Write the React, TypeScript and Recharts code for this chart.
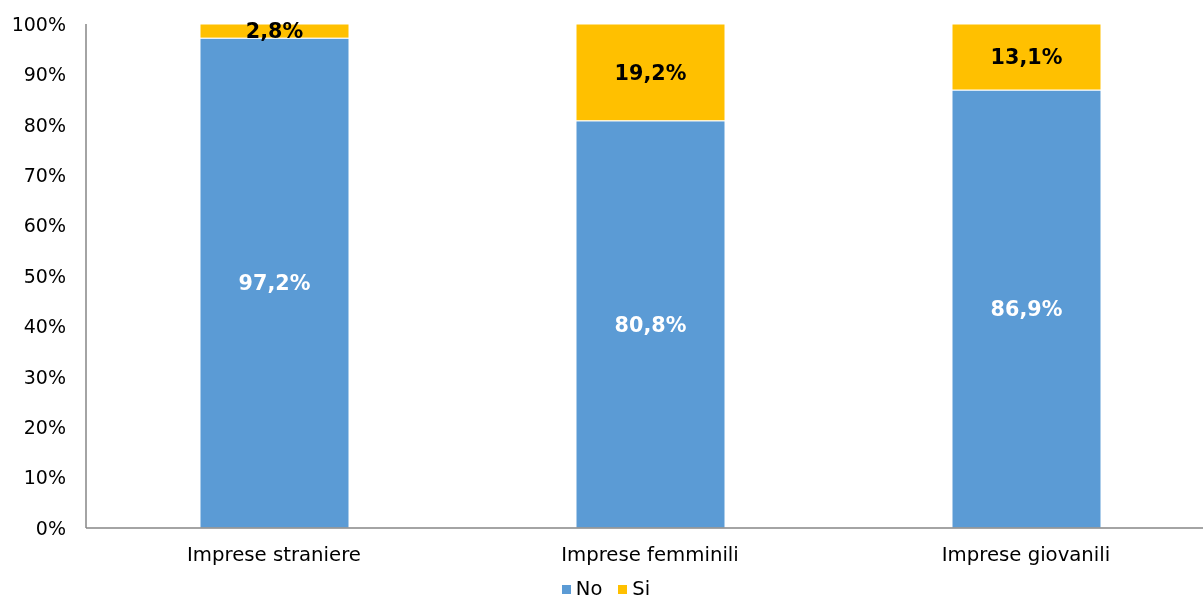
import { BarChart, Bar, XAxis, YAxis, Legend, LabelList } from 'recharts';

const CATEGORIES = ['Imprese straniere', 'Imprese femminili', 'Imprese giovanili'];
const NO_VALUES = [97.2, 80.8, 86.9];
const SI_VALUES = [2.8, 19.2, 13.1];
const Y_TICKS = [0, 10, 20, 30, 40, 50, 60, 70, 80, 90, 100];

const FONT = '"DejaVu Sans", Verdana, sans-serif';
const AXIS_COLOR = '#868686';

const data = CATEGORIES.map((name, i) => ({ name, no: NO_VALUES[i], si: SI_VALUES[i] }));

const fmt = (v: number) => `${v.toFixed(1).replace('.', ',')}%`;

const renderLegend = (props: any) => (
  <div
    style={{
      display: 'flex',
      justifyContent: 'center',
      alignItems: 'center',
      gap: 16,
      height: 18,
      lineHeight: '18px',
      fontSize: 19.5,
      fontFamily: FONT,
    }}
  >
    {props.payload.map((entry: any) => (
      <div key={entry.value} style={{ display: 'flex', alignItems: 'center' }}>
        <span style={{ width: 9, height: 9, background: entry.color, marginRight: 5 }} />
        <span style={{ color: '#000' }}>{entry.value}</span>
      </div>
    ))}
  </div>
);

export default function App() {
  return (
    <div style={{ position: 'fixed', left: 0, top: 0, width: 1203, height: 601, overflow: 'hidden', fontFamily: FONT }}>
      <BarChart
        width={1230}
        height={601}
        data={data}
        margin={{ top: 24, right: 16, left: 0, bottom: 0 }}
        barSize={149}
      >
        <XAxis
          dataKey="name"
          tickSize={0}
          tickMargin={19}
          height={73}
          stroke={AXIS_COLOR}
          strokeWidth={1.5}
          tick={{ fill: '#000', fontSize: 19.7, fontFamily: FONT }}
        />
        <YAxis
          domain={[0, 100]}
          ticks={Y_TICKS}
          width={86}
          tickSize={0}
          tickMargin={20}
          stroke={AXIS_COLOR}
          strokeWidth={1.5}
          tickFormatter={(v) => `${v}%`}
          tick={{ fill: '#000', fontSize: 19, fontFamily: FONT }}
          interval={0}
        />
        <Legend
          verticalAlign="middle"
          align="center"
          layout="horizontal"
          content={renderLegend}
          wrapperStyle={{ top: 580, left: 0, width: 1212, height: 18 }}
        />
        <Bar dataKey="no" name="No" stackId="a" fill="#5B9BD5" stroke="#fff" strokeWidth={1} isAnimationActive={false}>
          <LabelList
            dataKey="no"
            position="center"
            formatter={(v: number) => fmt(v)}
            style={{ fill: '#fff', fontWeight: 'bold', fontSize: 20.7, fontFamily: FONT }}
          />
        </Bar>
        <Bar dataKey="si" name="Si" stackId="a" fill="#FFC000" stroke="#fff" strokeWidth={1} isAnimationActive={false}>
          <LabelList
            dataKey="si"
            position="center"
            formatter={(v: number) => fmt(v)}
            style={{ fill: '#000', fontWeight: 'bold', fontSize: 20.7, fontFamily: FONT }}
          />
        </Bar>
      </BarChart>
    </div>
  );
}
